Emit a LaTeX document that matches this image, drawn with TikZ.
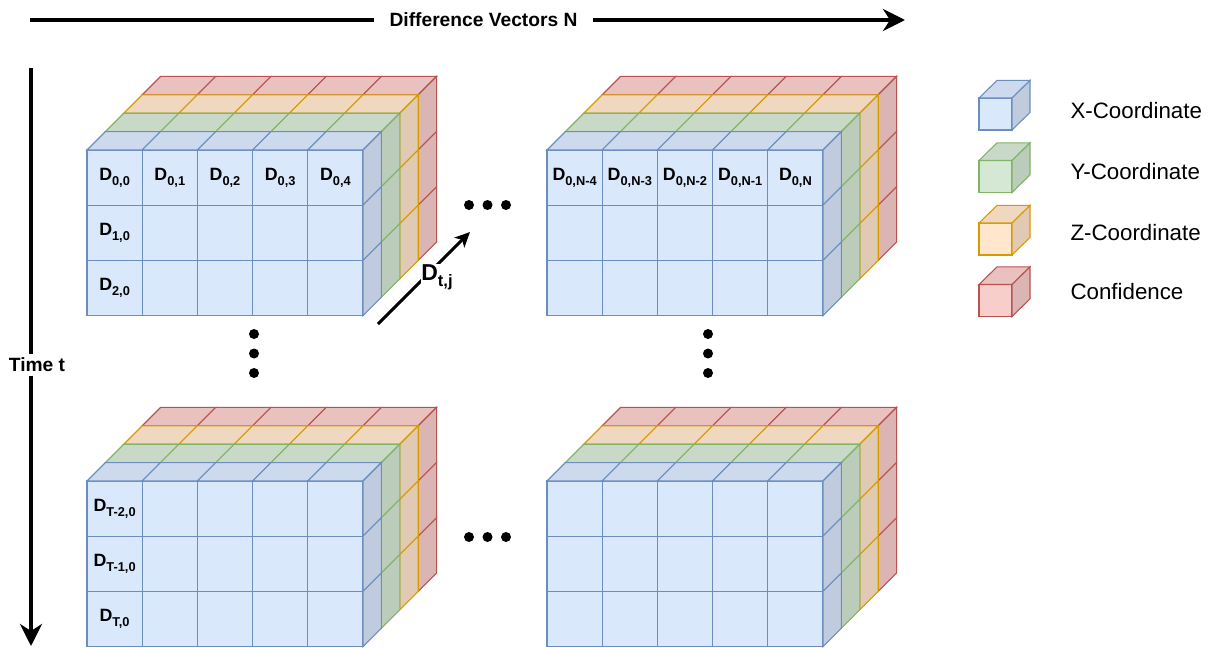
\documentclass[tikz,border=0pt]{standalone}
\usepackage{fontspec}
\setmainfont{Liberation Sans}
\usepackage{graphicx}
\usetikzlibrary{arrows.meta}

\definecolor{xfill}{HTML}{DAE8FC}\definecolor{xline}{HTML}{6C8EBF}
\definecolor{yfill}{HTML}{D5E8D4}\definecolor{yline}{HTML}{82B366}
\definecolor{zfill}{HTML}{FFE6CC}\definecolor{zline}{HTML}{D79B00}
\definecolor{cfill}{HTML}{F8CECC}\definecolor{cline}{HTML}{B85450}

% lowered, reduced index after a letter
\newcommand\lsub[1]{\raisebox{-0.26em}{\scalebox{0.72}{#1}}}

\def\cellsz{55.2}
\def\layerd{18.4}

% one layer of 5 x 3 cubes; #1,#2 = top-left corner of its front face
\newcommand\slab[4]{%
  \foreach \i in {0,...,4} {
    \foreach \j in {0,1,2} {
      \filldraw[fill=#3, draw=#4] ({#1+\i*\cellsz},{#2+\j*\cellsz}) rectangle ++(\cellsz,\cellsz);
    }
    \filldraw[fill=#3!94!black, draw=#4] ({#1+\i*\cellsz},{#2}) -- ++(\cellsz,0) -- ++(\layerd,-\layerd) -- ++(-\cellsz,0) -- cycle;
  }
  \foreach \j in {0,1,2} {
    \filldraw[fill=#3!88!black, draw=#4] ({#1+5*\cellsz},{#2+\j*\cellsz}) -- ++(\layerd,-\layerd) -- ++(0,\cellsz) -- ++(-\layerd,\layerd) -- cycle;
  }
}

% four stacked layers: confidence, z, y, x (back to front)
\newcommand\tensor[2]{%
  \slab{#1+3*\layerd}{#2-3*\layerd}{cfill}{cline}
  \slab{#1+2*\layerd}{#2-2*\layerd}{zfill}{zline}
  \slab{#1+\layerd}{#2-\layerd}{yfill}{yline}
  \slab{#1}{#2}{xfill}{xline}
}

% single cube for the key
\newcommand\legcube[4]{%
  \filldraw[fill=#3, draw=#4] (#1,#2) rectangle ++(33,32);
  \filldraw[fill=#3!94!black, draw=#4] (#1,#2) -- ++(18,-17.6) -- ++(33,0) -- ++(-18,17.6) -- cycle;
  \filldraw[fill=#3!88!black, draw=#4] ({#1+33},#2) -- ++(18,-17.6) -- ++(0,32) -- ++(-18,17.6) -- cycle;
}

\begin{document}
\begin{tikzpicture}[x=1pt, y=-1pt, line width=1.1pt,
  cell/.style={font=\fontsize{17.8}{21}\selectfont\bfseries, inner sep=0pt},
  keytext/.style={font=\fontsize{22.3}{26}\selectfont, anchor=west, inner sep=0pt},
  axislabel/.style={font=\fontsize{19.2}{22}\selectfont\bfseries, fill=white},
  axis/.style={line width=3.8pt, -{Stealth[length=22pt, width=22pt, inset=7pt]}},
  dirarrow/.style={line width=3pt, -{Stealth[length=15pt, width=14pt, inset=4pt]}},
  dot/.style={fill=black}]
\useasboundingbox (0,0) rectangle (1216,648);

% axes
\coordinate (hs) at (30,20);
\coordinate (he) at (905,20);
\draw[axis] (hs) -- node[axislabel, inner xsep=16pt, inner ysep=2pt, xshift=16pt] (nlab) {Difference Vectors N} (he);
\coordinate (vs) at (31,68);
\coordinate (ve) at (31,646);
\draw[axis] (vs) -- (ve);
\node[axislabel, inner xsep=2pt, inner ysep=4pt] (tlab) at (37,365) {Time t};

% tensors
\tensor{87}{150}
\tensor{547}{150}
\tensor{87}{481}
\tensor{547}{481}

% cell labels, first block
\foreach \k/\t in {0/{0,0},1/{0,1},2/{0,2},3/{0,3},4/{0,4}}
  \node[cell] (a0\k) at ({87+(\k+0.5)*\cellsz},{150+0.5*\cellsz}) {D\lsub{\t}};
\node[cell] (a10) at ({87+0.5*\cellsz},{150+1.5*\cellsz}) {D\lsub{1,0}};
\node[cell] (a20) at ({87+0.5*\cellsz},{150+2.5*\cellsz}) {D\lsub{2,0}};

% cell labels, last block of the first time step
\foreach \k/\t in {0/{0,N-4},1/{0,N-3},2/{0,N-2},3/{0,N-1},4/{0,N}}
  \node[cell] (b0\k) at ({547+(\k+0.5)*\cellsz},{150+0.5*\cellsz}) {D\lsub{\t}};

% cell labels, last time steps
\node[cell] (c0) at ({87+0.5*\cellsz},{481+0.5*\cellsz}) {D\lsub{T-2,0}};
\node[cell] (c1) at ({87+0.5*\cellsz},{481+1.5*\cellsz}) {D\lsub{T-1,0}};
\node[cell] (c2) at ({87+0.5*\cellsz},{481+2.5*\cellsz}) {D\lsub{T,0}};

% depth direction
\coordinate (ds) at (378,324);
\coordinate (de) at (470,232);
\draw[dirarrow] (ds) -- (de);
\node[font=\fontsize{23}{27}\selectfont\bfseries, fill=white, inner sep=0pt] (dtj) at (437,277) {D\lsub{t,j}};

% ellipses
\foreach \x in {469,487.5,506} \fill[dot] (\x,205) circle (5);
\foreach \x in {469,487.5,506} \fill[dot] (\x,537) circle (5);
\foreach \y in {334,353.5,373} \fill[dot] (254,\y) circle (5);
\foreach \y in {334,353.5,373} \fill[dot] (708,\y) circle (5);

% key
\legcube{979}{98}{xfill}{xline}
\legcube{979}{160.5}{yfill}{yline}
\legcube{979}{223}{zfill}{zline}
\legcube{979}{284.5}{cfill}{cline}
\node[keytext] (kx) at (1070,110.5) {X-Coordinate};
\node[keytext] (ky) at (1070,171.5) {Y-Coordinate};
\node[keytext] (kz) at (1070,232.5) {Z-Coordinate};
\node[keytext] (kc) at (1070,292) {Confidence};
\end{tikzpicture}
\end{document}
